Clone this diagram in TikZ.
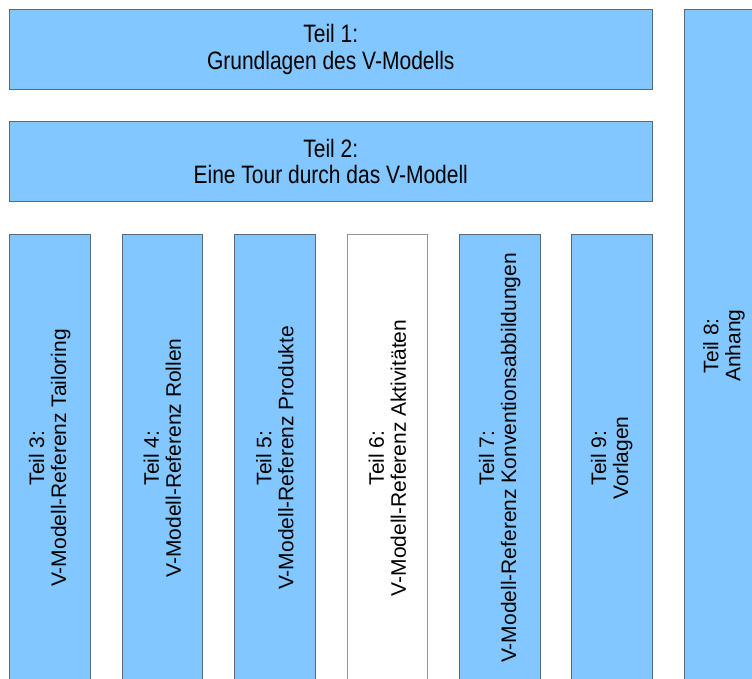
\documentclass[tikz,border=0pt]{standalone}
\usepackage{fontspec}
\setmainfont{Liberation Sans}
\definecolor{boxfill}{RGB}{130,199,255}
\definecolor{boxline}{RGB}{95,105,118}
\definecolor{lightline}{RGB}{150,150,150}
\newcommand{\htext}[2]{\scalebox{1}[1.2]{\parbox{600pt}{\centering #1\\#2}}}
\begin{document}
\begin{tikzpicture}[x=1pt,y=-1pt,
  box/.style={draw=boxline, fill=boxfill, line width=1pt, inner sep=0pt, rectangle,
              font=\fontsize{21pt}{22pt}\selectfont, text=black},
  wide/.style={box, minimum width=642.5pt, minimum height=80pt},
  col/.style={box, rotate=90, minimum width=448pt, minimum height=80.5pt, align=center},
  whitecol/.style={col, fill=white, draw=lightline}]
\useasboundingbox (0,0) rectangle (752,679);
\clip (0,0) rectangle (752,679);
\node[wide] (t1) at (330.75,49.5) {\htext{Teil 1:}{Grundlagen des V-Modells}};
\node[wide] (t2) at (330.75,161.5) {\htext{Teil 2:}{Eine Tour durch das V-Modell}};
\node[col] (t3) at (49.75,458) {Teil 3:\\V-Modell-Referenz Tailoring};
\node[col] (t4) at (162.25,458) {Teil 4:\\V-Modell-Referenz Rollen};
\node[col] (t5) at (274.75,458) {Teil 5:\\V-Modell-Referenz Produkte};
\node[whitecol] (t6) at (387.25,458) {Teil 6:\\V-Modell-Referenz Aktivitäten};
\node[col] (t7) at (499.75,458) {Teil 7:\\V-Modell-Referenz Konventionsabbildungen};
\node[col] (t9) at (611.75,458) {Teil 9:\\Vorlagen};
\node[col, minimum width=672.5pt, minimum height=80pt] (t8) at (724,345.75) {Teil 8:\\Anhang};
\end{tikzpicture}
\end{document}
